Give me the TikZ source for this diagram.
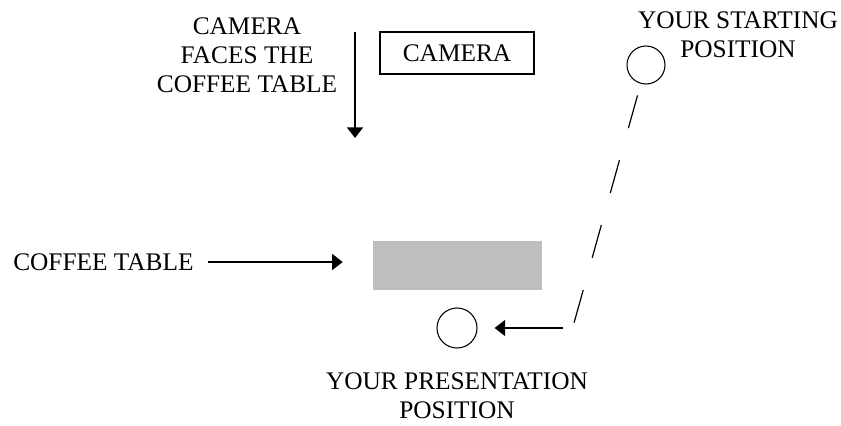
\documentclass[tikz,border=0pt]{standalone}
\usepackage{fontspec}
\setmainfont{Liberation Serif}
\usepackage{tikz}
\usetikzlibrary{
  arrows.meta,
  positioning,
  calc
}
\tikzset{>={Triangle[length=8pt, width=12pt]}}
\tikzset{font=\fontsize{19}{22}\selectfont}
\tikzset{every node/.style={inner sep=0pt}}
\tikzset{spot/.style={draw, circle, line width=0.8pt}}
\tikzset{pointer/.style={->, line width=1.4pt}}
\tikzset{walk/.style={line width=0.9pt, dash pattern=on 25.5pt off 25pt}}
\definecolor{tablegray}{rgb}{0.737, 0.745, 0.753}

\begin{document}
\begin{tikzpicture}[x=0.75pt, y=-0.75pt]
  \useasboundingbox (0,0) rectangle (841,425);%
  % camera and where it looks
  \node[align=center, anchor=north] (facetext) at (247,17.2) {CAMERA\\FACES THE\\COFFEE TABLE};%
  \coordinate (facetop) at (355,32);%
  \coordinate (facebot) at (355,138);%
  \draw[pointer] (facetop) -- (facebot);%
  \node[draw, line width=0.8pt, minimum width=115.5pt, minimum height=31.5pt] (camera) at (457,53) {CAMERA};%
  % starting spot
  \node[spot, minimum size=28.5pt] (start) at (646,65) {};%
  \node[align=center, anchor=north] (starttext) at (738,11.2) {YOUR STARTING\\POSITION};%
  % the table
  \node[fill=tablegray, minimum width=126.75pt, minimum height=36.75pt] (table) at (457.5,265) {};%
  \node[anchor=west] (tablelabel) at (13,262) {COFFEE TABLE};%
  \draw[pointer, shorten <=10.5pt, shorten >=22.5pt] (tablelabel) -- (tablelabel -| table.west);%
  % presentation spot
  \node[spot, minimum size=30pt] (pres) at (457,328) {};%
  \node[align=center, below=18pt of pres] (prestext) {YOUR PRESENTATION\\POSITION};%
  \coordinate (turn) at (574,323);%
  \coordinate (tail) at (563,328);%
  \draw[walk, shorten <=9pt] (start) -- (turn);%
  \draw[pointer, shorten >=12.75pt] (tail) -- (pres);%
\end{tikzpicture}
\end{document}
